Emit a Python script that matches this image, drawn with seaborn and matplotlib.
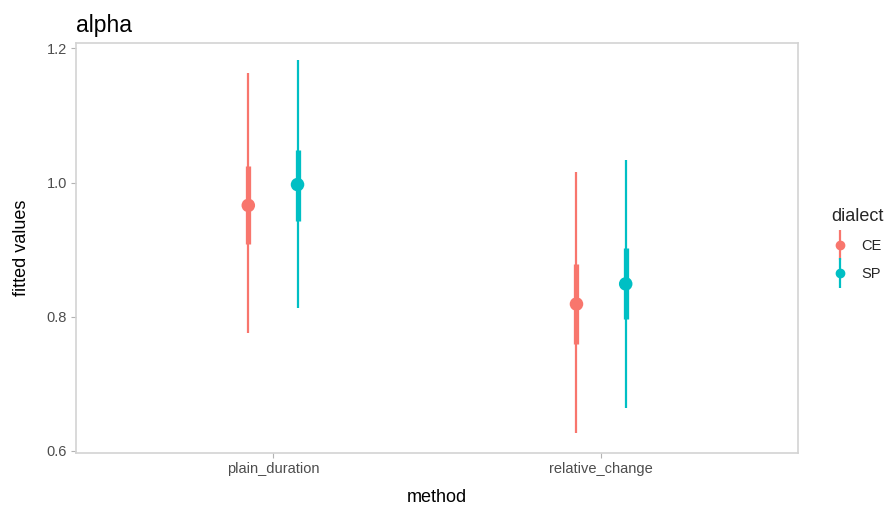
import matplotlib
matplotlib.use("Agg")
import matplotlib.pyplot as plt
from matplotlib.lines import Line2D
import seaborn as sns
import pandas as pd
import numpy as np

methods = ["plain_duration", "relative_change"]
dialects = ["CE", "SP"]
method_col = ["plain_duration", "plain_duration", "relative_change", "relative_change"]
dialect_col = ["CE", "SP", "CE", "SP"]
fit = [0.966, 0.997, 0.819, 0.849]
inner_lo = [0.908, 0.942, 0.759, 0.796]
inner_hi = [1.025, 1.049, 0.879, 0.902]
outer_lo = [0.776, 0.813, 0.627, 0.664]
outer_hi = [1.164, 1.182, 1.016, 1.033]
palette = {"CE": "#F8766D", "SP": "#00BFC4"}

df = pd.DataFrame({"method": method_col, "dialect": dialect_col, "fit": fit,
                   "ilo": inner_lo, "ihi": inner_hi, "olo": outer_lo, "ohi": outer_hi})
dodge = {"CE": -0.075, "SP": 0.075}
df["x"] = [methods.index(m) + dodge[d] for m, d in zip(df["method"], df["dialect"])]

sns.set_theme(style="white")
plt.rcParams["font.family"] = ["Liberation Sans", "DejaVu Sans"]

fig = plt.figure(figsize=(8.91, 5.09), dpi=100)
ax = fig.add_axes([76/891, 1-453/509, (798-76)/891, (453-43)/509])

for _, r in df.iterrows():
    c = palette[r["dialect"]]
    ax.vlines(r["x"], r["olo"], r["ohi"], color=c, lw=1.6, zorder=2)
    ax.vlines(r["x"], r["ilo"], r["ihi"], color=c, lw=3.8, zorder=3)
sns.scatterplot(data=df, x="x", y="fit", hue="dialect", palette=palette, s=95,
                edgecolor="none", ax=ax, zorder=4, legend=False)

ax.set_xlim(-0.6, 1.6)
ax.set_ylim(0.597, 1.208)
ax.set_xticks(range(len(methods)))
ax.set_xticklabels(methods)
ax.set_yticks([0.6, 0.8, 1.0, 1.2])
ax.set_yticklabels(["0.6", "0.8", "1.0", "1.2"])
ax.tick_params(axis="both", which="both", length=3.5, width=0.8, color="#B3B3B3",
               labelcolor="#4D4D4D", labelsize=10.5, pad=3, left=True, bottom=True)
for s in ax.spines.values():
    s.set_color("#D3D3D3")
    s.set_linewidth(1.2)
ax.grid(False)
ax.set_xlabel("method", fontsize=13, color="black", labelpad=9)
ax.set_ylabel("fitted values", fontsize=13, color="black", labelpad=12)
ax.set_title("alpha", fontsize=16.5, loc="left", color="black", pad=8)

handles = []
for d in dialects:
    vline = Line2D([], [], marker="|", markersize=22, markeredgewidth=1.6, ls="None", color=palette[d])
    dot = Line2D([], [], marker="o", markersize=6, ls="None", color=palette[d])
    handles.append((vline, dot))
leg = fig.legend(handles, dialects, title="dialect", loc="upper left",
                 bbox_to_anchor=(818/891, 1-195/509), frameon=False, fontsize=10.5,
                 title_fontsize=13, handlelength=1.2, handletextpad=0.9, labelspacing=0.95)
leg._legend_box.align = "left"

fig.savefig("out.png", dpi=100)
